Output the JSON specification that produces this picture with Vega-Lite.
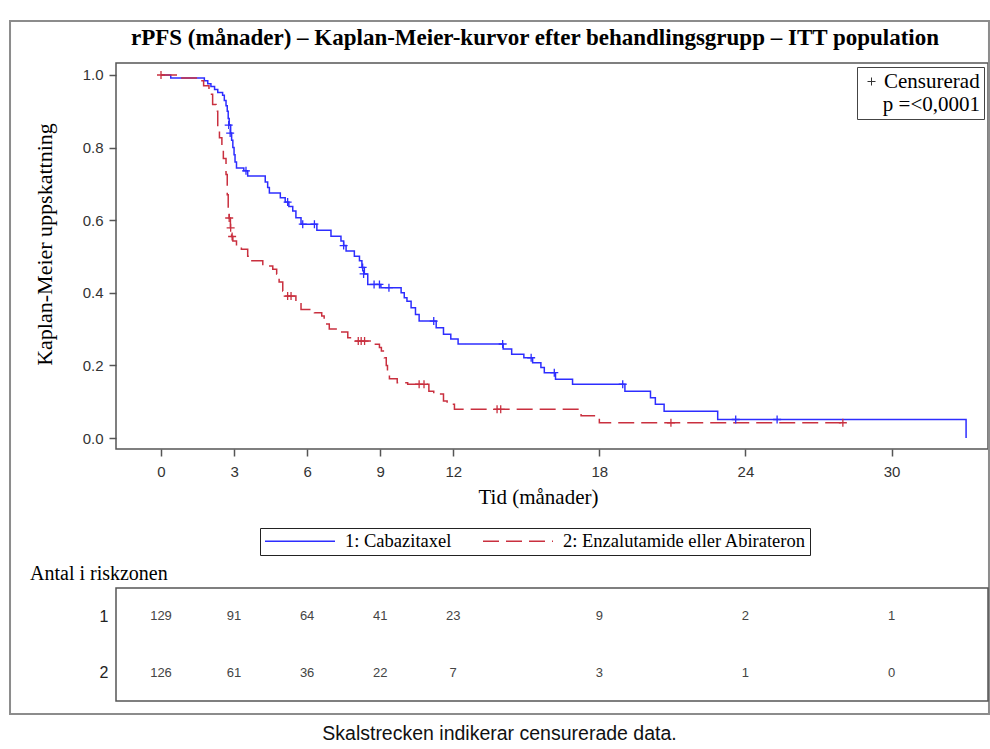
{
  "$schema": "https://vega.github.io/schema/vega-lite/v6.json",
  "padding": {"left": 8, "top": 19, "right": 0, "bottom": 2},
  "background": "white",
  "title": {"text": "Skalstrecken indikerar censurerade data.", "orient": "bottom", "anchor": "middle", "baseline": "top", "font": "Liberation Sans", "fontSize": 19.5, "fontWeight": "normal", "color": "#111", "offset": 9},
  "datasets": {
    "curves": [
      {"arm": "1: Cabazitaxel", "t": 0, "s": 1.0},
      {"arm": "1: Cabazitaxel", "t": 0.4, "s": 0.992},
      {"arm": "1: Cabazitaxel", "t": 1.78, "s": 0.984},
      {"arm": "1: Cabazitaxel", "t": 1.92, "s": 0.976},
      {"arm": "1: Cabazitaxel", "t": 2.05, "s": 0.968},
      {"arm": "1: Cabazitaxel", "t": 2.2, "s": 0.96},
      {"arm": "1: Cabazitaxel", "t": 2.33, "s": 0.952},
      {"arm": "1: Cabazitaxel", "t": 2.53, "s": 0.944},
      {"arm": "1: Cabazitaxel", "t": 2.6, "s": 0.93},
      {"arm": "1: Cabazitaxel", "t": 2.67, "s": 0.915},
      {"arm": "1: Cabazitaxel", "t": 2.72, "s": 0.9},
      {"arm": "1: Cabazitaxel", "t": 2.76, "s": 0.88},
      {"arm": "1: Cabazitaxel", "t": 2.8, "s": 0.862},
      {"arm": "1: Cabazitaxel", "t": 2.86, "s": 0.84},
      {"arm": "1: Cabazitaxel", "t": 2.9, "s": 0.82},
      {"arm": "1: Cabazitaxel", "t": 2.95, "s": 0.8},
      {"arm": "1: Cabazitaxel", "t": 3.0, "s": 0.78},
      {"arm": "1: Cabazitaxel", "t": 3.04, "s": 0.76},
      {"arm": "1: Cabazitaxel", "t": 3.1, "s": 0.744},
      {"arm": "1: Cabazitaxel", "t": 3.4, "s": 0.736},
      {"arm": "1: Cabazitaxel", "t": 3.56, "s": 0.722},
      {"arm": "1: Cabazitaxel", "t": 4.28, "s": 0.705},
      {"arm": "1: Cabazitaxel", "t": 4.38, "s": 0.69},
      {"arm": "1: Cabazitaxel", "t": 4.45, "s": 0.675},
      {"arm": "1: Cabazitaxel", "t": 4.9, "s": 0.662},
      {"arm": "1: Cabazitaxel", "t": 5.1, "s": 0.65},
      {"arm": "1: Cabazitaxel", "t": 5.25, "s": 0.638},
      {"arm": "1: Cabazitaxel", "t": 5.41, "s": 0.625},
      {"arm": "1: Cabazitaxel", "t": 5.54, "s": 0.607},
      {"arm": "1: Cabazitaxel", "t": 5.75, "s": 0.589},
      {"arm": "1: Cabazitaxel", "t": 6.4, "s": 0.572},
      {"arm": "1: Cabazitaxel", "t": 6.98, "s": 0.556},
      {"arm": "1: Cabazitaxel", "t": 7.39, "s": 0.543},
      {"arm": "1: Cabazitaxel", "t": 7.5, "s": 0.53},
      {"arm": "1: Cabazitaxel", "t": 7.6, "s": 0.515},
      {"arm": "1: Cabazitaxel", "t": 7.94, "s": 0.501},
      {"arm": "1: Cabazitaxel", "t": 8.15, "s": 0.488},
      {"arm": "1: Cabazitaxel", "t": 8.25, "s": 0.47},
      {"arm": "1: Cabazitaxel", "t": 8.35, "s": 0.452},
      {"arm": "1: Cabazitaxel", "t": 8.49, "s": 0.423},
      {"arm": "1: Cabazitaxel", "t": 9.03, "s": 0.414},
      {"arm": "1: Cabazitaxel", "t": 9.86, "s": 0.4},
      {"arm": "1: Cabazitaxel", "t": 9.99, "s": 0.386},
      {"arm": "1: Cabazitaxel", "t": 10.1, "s": 0.377},
      {"arm": "1: Cabazitaxel", "t": 10.27, "s": 0.359},
      {"arm": "1: Cabazitaxel", "t": 10.45, "s": 0.34},
      {"arm": "1: Cabazitaxel", "t": 10.6, "s": 0.322},
      {"arm": "1: Cabazitaxel", "t": 11.3, "s": 0.304},
      {"arm": "1: Cabazitaxel", "t": 11.6, "s": 0.286},
      {"arm": "1: Cabazitaxel", "t": 11.9, "s": 0.273},
      {"arm": "1: Cabazitaxel", "t": 12.2, "s": 0.259},
      {"arm": "1: Cabazitaxel", "t": 14.05, "s": 0.245},
      {"arm": "1: Cabazitaxel", "t": 14.4, "s": 0.231},
      {"arm": "1: Cabazitaxel", "t": 14.9, "s": 0.221},
      {"arm": "1: Cabazitaxel", "t": 15.26, "s": 0.207},
      {"arm": "1: Cabazitaxel", "t": 15.6, "s": 0.194},
      {"arm": "1: Cabazitaxel", "t": 15.74, "s": 0.18},
      {"arm": "1: Cabazitaxel", "t": 16.2, "s": 0.162},
      {"arm": "1: Cabazitaxel", "t": 16.9, "s": 0.148},
      {"arm": "1: Cabazitaxel", "t": 19.05, "s": 0.129},
      {"arm": "1: Cabazitaxel", "t": 20.1, "s": 0.111},
      {"arm": "1: Cabazitaxel", "t": 20.3, "s": 0.093},
      {"arm": "1: Cabazitaxel", "t": 20.66, "s": 0.074},
      {"arm": "1: Cabazitaxel", "t": 22.86, "s": 0.051},
      {"arm": "1: Cabazitaxel", "t": 33.06, "s": 0.0},
      {"arm": "2: Enzalutamide eller Abirateron", "t": 0, "s": 1.0},
      {"arm": "2: Enzalutamide eller Abirateron", "t": 0.8, "s": 0.992},
      {"arm": "2: Enzalutamide eller Abirateron", "t": 1.64, "s": 0.984},
      {"arm": "2: Enzalutamide eller Abirateron", "t": 1.75, "s": 0.97},
      {"arm": "2: Enzalutamide eller Abirateron", "t": 1.97, "s": 0.947},
      {"arm": "2: Enzalutamide eller Abirateron", "t": 2.12, "s": 0.919},
      {"arm": "2: Enzalutamide eller Abirateron", "t": 2.26, "s": 0.9},
      {"arm": "2: Enzalutamide eller Abirateron", "t": 2.33, "s": 0.855},
      {"arm": "2: Enzalutamide eller Abirateron", "t": 2.4, "s": 0.827},
      {"arm": "2: Enzalutamide eller Abirateron", "t": 2.5, "s": 0.8},
      {"arm": "2: Enzalutamide eller Abirateron", "t": 2.56, "s": 0.77},
      {"arm": "2: Enzalutamide eller Abirateron", "t": 2.67, "s": 0.726},
      {"arm": "2: Enzalutamide eller Abirateron", "t": 2.72, "s": 0.67},
      {"arm": "2: Enzalutamide eller Abirateron", "t": 2.76, "s": 0.63},
      {"arm": "2: Enzalutamide eller Abirateron", "t": 2.8, "s": 0.606},
      {"arm": "2: Enzalutamide eller Abirateron", "t": 2.85, "s": 0.579},
      {"arm": "2: Enzalutamide eller Abirateron", "t": 2.9, "s": 0.555},
      {"arm": "2: Enzalutamide eller Abirateron", "t": 2.95, "s": 0.543},
      {"arm": "2: Enzalutamide eller Abirateron", "t": 3.1, "s": 0.529},
      {"arm": "2: Enzalutamide eller Abirateron", "t": 3.3, "s": 0.52},
      {"arm": "2: Enzalutamide eller Abirateron", "t": 3.56, "s": 0.501},
      {"arm": "2: Enzalutamide eller Abirateron", "t": 3.7, "s": 0.488},
      {"arm": "2: Enzalutamide eller Abirateron", "t": 4.18, "s": 0.474},
      {"arm": "2: Enzalutamide eller Abirateron", "t": 4.59, "s": 0.465},
      {"arm": "2: Enzalutamide eller Abirateron", "t": 4.75, "s": 0.452},
      {"arm": "2: Enzalutamide eller Abirateron", "t": 4.85, "s": 0.43},
      {"arm": "2: Enzalutamide eller Abirateron", "t": 5.0, "s": 0.405},
      {"arm": "2: Enzalutamide eller Abirateron", "t": 5.1, "s": 0.391},
      {"arm": "2: Enzalutamide eller Abirateron", "t": 5.54, "s": 0.373},
      {"arm": "2: Enzalutamide eller Abirateron", "t": 5.75, "s": 0.354},
      {"arm": "2: Enzalutamide eller Abirateron", "t": 6.3, "s": 0.345},
      {"arm": "2: Enzalutamide eller Abirateron", "t": 6.6, "s": 0.336},
      {"arm": "2: Enzalutamide eller Abirateron", "t": 6.7, "s": 0.314},
      {"arm": "2: Enzalutamide eller Abirateron", "t": 6.91, "s": 0.3},
      {"arm": "2: Enzalutamide eller Abirateron", "t": 7.39, "s": 0.292},
      {"arm": "2: Enzalutamide eller Abirateron", "t": 7.67, "s": 0.276},
      {"arm": "2: Enzalutamide eller Abirateron", "t": 7.94, "s": 0.267},
      {"arm": "2: Enzalutamide eller Abirateron", "t": 8.62, "s": 0.258},
      {"arm": "2: Enzalutamide eller Abirateron", "t": 8.97, "s": 0.249},
      {"arm": "2: Enzalutamide eller Abirateron", "t": 9.05, "s": 0.24},
      {"arm": "2: Enzalutamide eller Abirateron", "t": 9.17, "s": 0.221},
      {"arm": "2: Enzalutamide eller Abirateron", "t": 9.25, "s": 0.2},
      {"arm": "2: Enzalutamide eller Abirateron", "t": 9.3, "s": 0.185},
      {"arm": "2: Enzalutamide eller Abirateron", "t": 9.38, "s": 0.163},
      {"arm": "2: Enzalutamide eller Abirateron", "t": 9.7, "s": 0.152},
      {"arm": "2: Enzalutamide eller Abirateron", "t": 10.13, "s": 0.148},
      {"arm": "2: Enzalutamide eller Abirateron", "t": 11.0, "s": 0.129},
      {"arm": "2: Enzalutamide eller Abirateron", "t": 11.2, "s": 0.121},
      {"arm": "2: Enzalutamide eller Abirateron", "t": 11.6, "s": 0.102},
      {"arm": "2: Enzalutamide eller Abirateron", "t": 11.75, "s": 0.093},
      {"arm": "2: Enzalutamide eller Abirateron", "t": 12.05, "s": 0.079},
      {"arm": "2: Enzalutamide eller Abirateron", "t": 17.25, "s": 0.061},
      {"arm": "2: Enzalutamide eller Abirateron", "t": 18.0, "s": 0.042},
      {"arm": "2: Enzalutamide eller Abirateron", "t": 28.0, "s": 0.042}
    ],
    "censor": [
      {"arm": "1: Cabazitaxel", "kind": "Censurerad", "t": 2.78, "s": 0.862},
      {"arm": "1: Cabazitaxel", "kind": "Censurerad", "t": 2.84, "s": 0.84},
      {"arm": "1: Cabazitaxel", "kind": "Censurerad", "t": 3.49, "s": 0.736},
      {"arm": "1: Cabazitaxel", "kind": "Censurerad", "t": 5.2, "s": 0.65},
      {"arm": "1: Cabazitaxel", "kind": "Censurerad", "t": 5.82, "s": 0.589},
      {"arm": "1: Cabazitaxel", "kind": "Censurerad", "t": 6.3, "s": 0.589},
      {"arm": "1: Cabazitaxel", "kind": "Censurerad", "t": 7.5, "s": 0.53},
      {"arm": "1: Cabazitaxel", "kind": "Censurerad", "t": 8.28, "s": 0.47},
      {"arm": "1: Cabazitaxel", "kind": "Censurerad", "t": 8.32, "s": 0.452},
      {"arm": "1: Cabazitaxel", "kind": "Censurerad", "t": 8.75, "s": 0.423},
      {"arm": "1: Cabazitaxel", "kind": "Censurerad", "t": 8.97, "s": 0.423},
      {"arm": "1: Cabazitaxel", "kind": "Censurerad", "t": 9.36, "s": 0.414},
      {"arm": "1: Cabazitaxel", "kind": "Censurerad", "t": 11.2, "s": 0.322},
      {"arm": "1: Cabazitaxel", "kind": "Censurerad", "t": 14.03, "s": 0.259},
      {"arm": "1: Cabazitaxel", "kind": "Censurerad", "t": 15.2, "s": 0.221},
      {"arm": "1: Cabazitaxel", "kind": "Censurerad", "t": 16.15, "s": 0.18},
      {"arm": "1: Cabazitaxel", "kind": "Censurerad", "t": 18.96, "s": 0.148},
      {"arm": "1: Cabazitaxel", "kind": "Censurerad", "t": 23.6, "s": 0.051},
      {"arm": "1: Cabazitaxel", "kind": "Censurerad", "t": 25.3, "s": 0.051},
      {"arm": "2: Enzalutamide eller Abirateron", "kind": "Censurerad", "t": 0, "s": 1.0},
      {"arm": "2: Enzalutamide eller Abirateron", "kind": "Censurerad", "t": 2.8, "s": 0.606},
      {"arm": "2: Enzalutamide eller Abirateron", "kind": "Censurerad", "t": 2.86, "s": 0.579},
      {"arm": "2: Enzalutamide eller Abirateron", "kind": "Censurerad", "t": 2.92, "s": 0.555},
      {"arm": "2: Enzalutamide eller Abirateron", "kind": "Censurerad", "t": 5.2, "s": 0.391},
      {"arm": "2: Enzalutamide eller Abirateron", "kind": "Censurerad", "t": 5.34, "s": 0.391},
      {"arm": "2: Enzalutamide eller Abirateron", "kind": "Censurerad", "t": 8.1, "s": 0.267},
      {"arm": "2: Enzalutamide eller Abirateron", "kind": "Censurerad", "t": 8.22, "s": 0.267},
      {"arm": "2: Enzalutamide eller Abirateron", "kind": "Censurerad", "t": 8.36, "s": 0.267},
      {"arm": "2: Enzalutamide eller Abirateron", "kind": "Censurerad", "t": 10.6, "s": 0.148},
      {"arm": "2: Enzalutamide eller Abirateron", "kind": "Censurerad", "t": 10.8, "s": 0.148},
      {"arm": "2: Enzalutamide eller Abirateron", "kind": "Censurerad", "t": 13.8, "s": 0.079},
      {"arm": "2: Enzalutamide eller Abirateron", "kind": "Censurerad", "t": 13.95, "s": 0.079},
      {"arm": "2: Enzalutamide eller Abirateron", "kind": "Censurerad", "t": 20.94, "s": 0.042},
      {"arm": "2: Enzalutamide eller Abirateron", "kind": "Censurerad", "t": 28.0, "s": 0.042}
    ],
    "risk": [
      {"grp": "1", "t": 0, "n": 129},
      {"grp": "1", "t": 3, "n": 91},
      {"grp": "1", "t": 6, "n": 64},
      {"grp": "1", "t": 9, "n": 41},
      {"grp": "1", "t": 12, "n": 23},
      {"grp": "1", "t": 18, "n": 9},
      {"grp": "1", "t": 24, "n": 2},
      {"grp": "1", "t": 30, "n": 1},
      {"grp": "2", "t": 0, "n": 126},
      {"grp": "2", "t": 3, "n": 61},
      {"grp": "2", "t": 6, "n": 36},
      {"grp": "2", "t": 9, "n": 22},
      {"grp": "2", "t": 12, "n": 7},
      {"grp": "2", "t": 18, "n": 3},
      {"grp": "2", "t": 24, "n": 1},
      {"grp": "2", "t": 30, "n": 0}
    ]
  },
  "spacing": 139,
  "bounds": "flush",
  "vconcat": [
    {
      "width": 872,
      "height": 386,
      "title": {"text": "rPFS (månader) – Kaplan-Meier-kurvor efter behandlingsgrupp – ITT population", "frame": "group", "anchor": "middle", "dx": -17, "offset": -30.6, "baseline": "top", "font": "Liberation Serif", "fontSize": 23, "fontWeight": "bold", "color": "#000"},
      "layer": [
        {
          "data": {"values": [{"frame": 1}]},
          "mark": {"type": "rect", "filled": false, "fill": null, "stroke": "#8c8c8c", "strokeWidth": 2, "clip": false},
          "encoding": {
            "x": {"datum": -6.2, "type": "quantitative"},
            "x2": {"datum": 34.0},
            "y": {"datum": 1.149, "type": "quantitative"},
            "y2": {"datum": -0.76}
          }
        },
        {
          "data": {"name": "curves"},
          "mark": {"type": "line", "interpolate": "step-after", "strokeWidth": 1.5},
          "encoding": {
            "x": {"field": "t", "type": "quantitative", "title": "Tid (månader)",
              "scale": {"domain": [-1.848, 33.96], "nice": false, "zero": false},
              "axis": {"values": [0, 3, 6, 9, 12, 18, 24, 30], "grid": false, "domain": false, "tickSize": 7, "tickWidth": 1.5, "tickColor": "#555", "labelFont": "Liberation Sans", "labelFontSize": 15, "labelColor": "#333", "labelPadding": 8, "titleFont": "Liberation Serif", "titleFontSize": 21, "titleFontWeight": "normal", "titleColor": "#000", "titlePadding": 7, "titleX": 422}},
            "y": {"field": "s", "type": "quantitative", "title": "Kaplan-Meier uppskattning",
              "scale": {"domain": [-0.0303, 1.033], "nice": false, "zero": false},
              "axis": {"values": [0, 0.2, 0.4, 0.6, 0.8, 1.0], "format": ".1f", "grid": false, "domain": false, "tickSize": 7, "tickWidth": 1.5, "tickColor": "#555", "labelFont": "Liberation Sans", "labelFontSize": 15, "labelColor": "#333", "labelPadding": 6, "titleFont": "Liberation Serif", "titleFontSize": 22, "titleFontWeight": "normal", "titleColor": "#000", "titlePadding": 26, "titleY": 181}},
            "color": {"field": "arm", "type": "nominal", "title": null,
              "scale": {"domain": ["1: Cabazitaxel", "2: Enzalutamide eller Abirateron"], "range": ["#2d2dff", "#c9303f"]},
              "legend": {"orient": "none", "legendX": 144, "legendY": 465, "direction": "horizontal", "strokeColor": "#222", "padding": 4, "labelFont": "Liberation Serif", "labelFontSize": 18.5, "labelColor": "#000", "labelLimit": 600, "symbolType": "stroke", "symbolSize": 4900, "symbolStrokeWidth": 1.5, "clipHeight": 18, "columnPadding": 30, "labelOffset": 9}},
            "strokeDash": {"field": "arm", "type": "nominal", "title": null,
              "scale": {"domain": ["1: Cabazitaxel", "2: Enzalutamide eller Abirateron"], "range": [[1, 0], [16, 7]]},
              "legend": {"orient": "none", "legendX": 144, "legendY": 465, "direction": "horizontal", "strokeColor": "#222", "padding": 4, "labelFont": "Liberation Serif", "labelFontSize": 18.5, "labelColor": "#000", "labelLimit": 600, "symbolType": "stroke", "symbolSize": 4900, "symbolStrokeWidth": 1.5, "clipHeight": 18, "columnPadding": 30, "labelOffset": 9}}
          }
        },
        {
          "data": {"name": "censor"},
          "mark": {"type": "point", "filled": false, "strokeWidth": 1.3, "size": 64, "opacity": 1},
          "encoding": {
            "x": {"field": "t", "type": "quantitative"},
            "y": {"field": "s", "type": "quantitative"},
            "stroke": {"field": "arm", "type": "nominal", "scale": {"domain": ["1: Cabazitaxel", "2: Enzalutamide eller Abirateron"], "range": ["#2d2dff", "#c9303f"]}, "legend": null},
            "shape": {"field": "kind", "type": "nominal", "title": "p =<0,0001",
              "scale": {"domain": ["Censurerad"], "range": ["M0,-1L0,1M-1,0L1,0"]},
              "legend": {"orient": "top-right", "offset": 4, "titleOrient": "bottom", "titleAnchor": "end", "titleFont": "Liberation Serif", "titleFontSize": 21, "titleFontWeight": "normal", "titleColor": "#000", "titlePadding": 2, "labelFont": "Liberation Serif", "labelFontSize": 21, "labelColor": "#000", "strokeColor": "#444", "padding": 4, "symbolSize": 64, "symbolStrokeWidth": 1, "symbolStrokeColor": "#333", "symbolFillColor": "transparent", "labelOffset": 2}}
          }
        }
      ]
    },
    {
      "width": 872,
      "height": 113,
      "title": {"text": "Antal i riskzonen", "frame": "group", "anchor": "start", "dx": -86, "offset": 4, "baseline": "top", "font": "Liberation Serif", "fontSize": 20, "fontWeight": "normal", "color": "#000"},
      "data": {"name": "risk"},
      "mark": {"type": "text", "font": "Liberation Sans", "fontSize": 13, "color": "#444", "baseline": "middle"},
      "encoding": {
        "x": {"field": "t", "type": "quantitative", "scale": {"domain": [-1.848, 33.96], "nice": false, "zero": false}, "axis": null},
        "y": {"field": "grp", "type": "ordinal", "scale": {"type": "point", "padding": 0.5},
          "axis": {"title": null, "ticks": false, "domain": false, "labelFont": "Liberation Sans", "labelFontSize": 16, "labelColor": "#222", "labelPadding": 8}},
        "text": {"field": "n", "type": "quantitative"}
      }
    }
  ],
  "config": {
    "view": {"stroke": "#555", "strokeWidth": 1.5},
    "font": "Liberation Serif"
  }
}
